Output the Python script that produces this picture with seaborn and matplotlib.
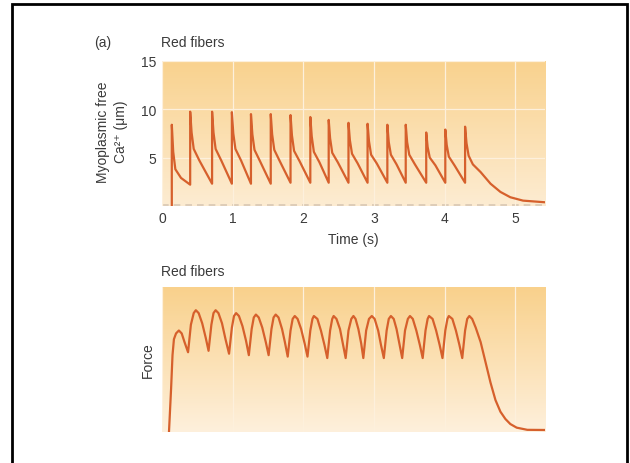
import numpy as np
import matplotlib
matplotlib.use("Agg")
import matplotlib.pyplot as plt
import seaborn as sns
from matplotlib.colors import LinearSegmentedColormap
from matplotlib.patches import Rectangle

# myoplasmic free Ca2+ (uM) vs time (s)
ca_time = [0.14, 0.14, 0.16, 0.19, 0.27, 0.40,
           0.40, 0.42, 0.45, 0.53, 0.71,
           0.71, 0.73, 0.76, 0.84, 0.99,
           0.99, 1.01, 1.04, 1.12, 1.26,
           1.26, 1.28, 1.31, 1.39, 1.54,
           1.54, 1.56, 1.59, 1.67, 1.82,
           1.82, 1.84, 1.87, 1.95, 2.10,
           2.10, 2.12, 2.15, 2.23, 2.36,
           2.36, 2.38, 2.41, 2.49, 2.64,
           2.64, 2.66, 2.69, 2.77, 2.91,
           2.91, 2.93, 2.96, 3.04, 3.19,
           3.19, 3.21, 3.24, 3.32, 3.45,
           3.45, 3.47, 3.50, 3.58, 3.74,
           3.74, 3.76, 3.79, 3.87, 4.01,
           4.01, 4.03, 4.06, 4.14, 4.29,
           4.29, 4.31, 4.34, 4.40, 4.51, 4.65, 4.79, 4.93, 5.11, 5.42]
ca_level = [0.0, 8.4, 5.6, 3.8, 2.9, 2.2,
            9.75, 7.6, 5.9, 4.7, 2.3,
            9.75, 7.6, 5.9, 4.7, 2.3,
            9.7, 7.5, 5.9, 4.7, 2.3,
            9.5, 7.4, 5.8, 4.6, 2.3,
            9.5, 7.4, 5.8, 4.6, 2.4,
            9.4, 7.3, 5.7, 4.6, 2.4,
            9.2, 7.2, 5.6, 4.5, 2.4,
            8.9, 7.0, 5.5, 4.5, 2.4,
            8.6, 6.8, 5.4, 4.4, 2.4,
            8.5, 6.7, 5.3, 4.4, 2.4,
            8.4, 6.6, 5.3, 4.3, 2.4,
            8.4, 6.6, 5.3, 4.3, 2.4,
            7.6, 6.1, 5.0, 4.2, 2.4,
            7.9, 6.3, 5.1, 4.2, 2.4,
            8.2, 6.5, 5.2, 4.3, 3.5, 2.3, 1.45, 0.9, 0.55, 0.38]

# force (relative units) vs time (s)
force_time = [0.10, 0.13, 0.15, 0.17, 0.20, 0.24, 0.28, 0.32, 0.37,
              0.41, 0.45, 0.48, 0.52, 0.57, 0.62, 0.66,
              0.70, 0.73, 0.76, 0.80, 0.85, 0.90, 0.95,
              0.99, 1.02, 1.05, 1.09, 1.14, 1.19, 1.23,
              1.27, 1.30, 1.33, 1.37, 1.42, 1.47, 1.51,
              1.55, 1.58, 1.61, 1.65, 1.70, 1.74, 1.78,
              1.82, 1.85, 1.88, 1.92, 1.97, 2.02, 2.06,
              2.10, 2.13, 2.15, 2.20, 2.25, 2.30, 2.34,
              2.38, 2.41, 2.43, 2.47, 2.52, 2.56, 2.60,
              2.64, 2.68, 2.71, 2.74, 2.78, 2.82, 2.85,
              2.89, 2.93, 2.97, 3.01, 3.06, 3.10, 3.14,
              3.18, 3.21, 3.24, 3.28, 3.32, 3.36, 3.40,
              3.44, 3.48, 3.51, 3.55, 3.60, 3.65, 3.69,
              3.73, 3.76, 3.78, 3.83, 3.88, 3.93, 3.97,
              4.01, 4.04, 4.06, 4.11, 4.16, 4.21, 4.25,
              4.29, 4.32, 4.35, 4.39, 4.44, 4.51, 4.58, 4.65, 4.72,
              4.79, 4.86, 4.93, 5.02, 5.17, 5.42]
force_level = [0.0, 0.30, 0.53, 0.64, 0.68, 0.70, 0.68, 0.62, 0.55,
               0.74, 0.82, 0.84, 0.82, 0.75, 0.65, 0.56,
               0.74, 0.82, 0.84, 0.82, 0.75, 0.64, 0.54,
               0.72, 0.80, 0.82, 0.80, 0.73, 0.63, 0.53,
               0.71, 0.79, 0.81, 0.79, 0.72, 0.62, 0.53,
               0.71, 0.79, 0.81, 0.79, 0.71, 0.62, 0.52,
               0.70, 0.78, 0.80, 0.78, 0.71, 0.61, 0.52,
               0.70, 0.78, 0.80, 0.78, 0.70, 0.60, 0.51,
               0.70, 0.78, 0.80, 0.78, 0.71, 0.61, 0.51,
               0.70, 0.78, 0.80, 0.78, 0.71, 0.61, 0.51,
               0.70, 0.78, 0.80, 0.78, 0.70, 0.60, 0.51,
               0.70, 0.78, 0.80, 0.78, 0.71, 0.61, 0.51,
               0.70, 0.78, 0.80, 0.78, 0.70, 0.60, 0.51,
               0.70, 0.78, 0.80, 0.78, 0.70, 0.60, 0.51,
               0.70, 0.78, 0.80, 0.78, 0.70, 0.60, 0.51,
               0.70, 0.78, 0.80, 0.78, 0.72, 0.62, 0.48, 0.34, 0.22,
               0.14, 0.09, 0.055, 0.03, 0.015, 0.014]

time_ticks = [0, 1, 2, 3, 4, 5]
ca_ticks = [5, 10, 15]

sns.set_theme(style="white")
plt.rcParams["font.family"] = ["Liberation Sans", "DejaVu Sans"]

line_color = "#d6602c"
text_color = "#3a3a3a"
xmax = 5.42

fig = plt.figure(figsize=(6.3, 4.64), dpi=100)
ax1 = fig.add_axes([0.257, 0.554, 0.608, 0.3125])
ax2 = fig.add_axes([0.257, 0.0668, 0.608, 0.3125])

grad = np.linspace(0, 1, 256).reshape(-1, 1)
cmap1 = LinearSegmentedColormap.from_list("bg1", ["#fdecd2", "#f9d28e"])
cmap2 = LinearSegmentedColormap.from_list("bg2", ["#fef0dc", "#f9d18c"])

# --- calcium panel
ax1.imshow(grad, extent=[0, xmax, 0, 15], aspect="auto", origin="lower",
           cmap=cmap1, zorder=0)
sns.lineplot(x=ca_time, y=ca_level, estimator=None, sort=False, ax=ax1,
             color=line_color, lw=1.6, zorder=3)
ax1.axhline(0.1, color="#d8c8b4", lw=1.2, ls=(0, (4, 3)), zorder=2)
ax1.set_xlim(0, xmax)
ax1.set_ylim(0, 15)
ax1.set_xticks(time_ticks)
ax1.set_yticks(ca_ticks)
ax1.grid(True, color="#fdf0dc", lw=0.9, zorder=1)
ax1.set_axisbelow(False)
for s in ax1.spines.values():
    s.set_visible(False)
ax1.tick_params(length=0, labelsize=10, colors=text_color, pad=4)
ax1.set_xlabel("Time (s)", fontsize=10, color=text_color, labelpad=5)
ax1.set_ylabel("")

# --- force panel
ax2.imshow(grad, extent=[0, xmax, 0, 1], aspect="auto", origin="lower",
           cmap=cmap2, zorder=0)
sns.lineplot(x=force_time, y=force_level, estimator=None, sort=False, ax=ax2,
             color=line_color, lw=1.6, zorder=3)
ax2.set_xlim(0, xmax)
ax2.set_ylim(0, 1)
ax2.set_xticks(time_ticks)
ax2.set_xticklabels([])
ax2.set_yticks([])
ax2.grid(True, axis="x", color="#fdf0dc", lw=0.9, zorder=1)
for s in ax2.spines.values():
    s.set_visible(False)
ax2.tick_params(length=0)
ax2.set_xlabel("")
ax2.set_ylabel("")

# labels
fig.text(103 / 630, 1 - 43 / 464, "(a)", fontsize=10, color=text_color,
         ha="center", va="center")
fig.text(161 / 630, 1 - 43 / 464, "Red fibers", fontsize=10,
         color=text_color, ha="left", va="center")
fig.text(161 / 630, 1 - 272 / 464, "Red fibers", fontsize=10,
         color=text_color, ha="left", va="center")
fig.text(112 / 630, 1 - 132 / 464, "Myoplasmic free\nCa\u00b2\u207a (\u03bcm)",
         fontsize=10, color=text_color, rotation=90, ha="center",
         va="center", multialignment="center", linespacing=1.4)
fig.text(148 / 630, 1 - 360 / 464, "Force", fontsize=10, color=text_color,
         rotation=90, ha="center", va="center")

fig.patches.append(Rectangle((12 / 630, -0.02), 615 / 630, 1.009,
                             transform=fig.transFigure, fill=False,
                             ec="black", lw=2))

fig.savefig("out.png", dpi=100)
